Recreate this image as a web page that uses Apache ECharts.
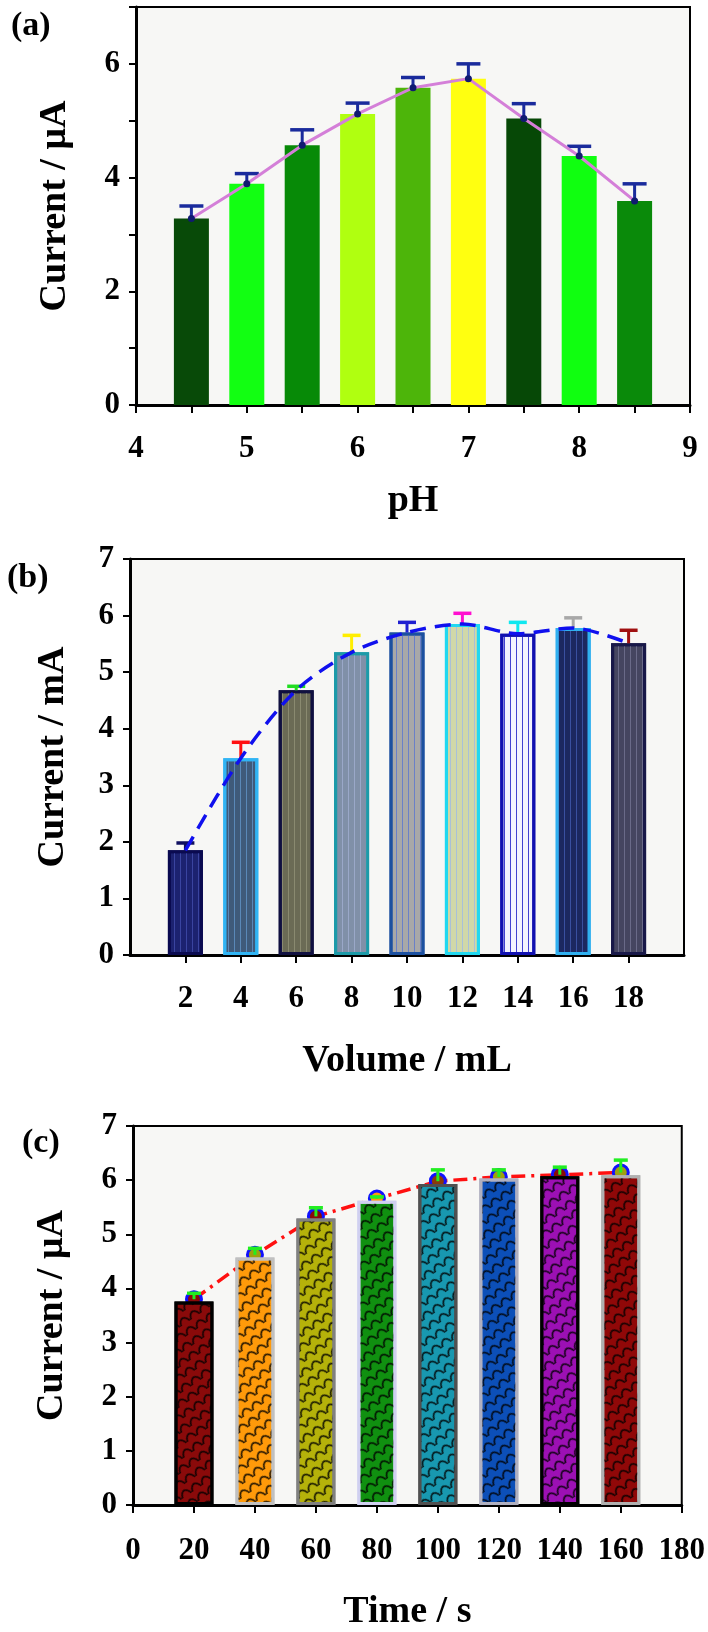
<!DOCTYPE html>
<html>
<head>
<meta charset="utf-8">
<script src="https://cdn.jsdelivr.net/npm/echarts@6/dist/echarts.min.js"></script>
<style>
  html, body { margin: 0; background: #fff; }
  #chart { width: 708px; height: 1632px; }
</style>
</head>
<body>
<div id="chart"></div>
<script>
// (a) effect of pH
var phValues = [4.5, 5, 5.5, 6, 6.5, 7, 7.5, 8, 8.5];
var phCurrent = [3.28, 3.89, 4.57, 5.12, 5.58, 5.74, 5.04, 4.38, 3.59];
var phError = [0.22, 0.18, 0.27, 0.19, 0.18, 0.26, 0.26, 0.17, 0.30];
var phTicks = [4, 5, 6, 7, 8, 9];

// (b) effect of volume
var volumes = [2, 4, 6, 8, 10, 12, 14, 16, 18];
var volCurrent = [1.85, 3.48, 4.68, 5.35, 5.70, 5.85, 5.68, 5.78, 5.51];
var volError = [0.13, 0.28, 0.07, 0.30, 0.18, 0.19, 0.20, 0.18, 0.23];

// (c) effect of time
var times = [20, 40, 60, 80, 100, 120, 140, 160];
var timeCurrent = [3.76, 4.57, 5.29, 5.62, 5.93, 6.03, 6.07, 6.09];
var timeMarker = [3.80, 4.62, 5.33, 5.66, 5.98, 6.06, 6.10, 6.14];
var timeError = [0.11, 0.12, 0.16, 0.03, 0.21, 0.13, 0.14, 0.23];

// colours
var phColors = ['#084a08', '#12ff12', '#078a07', '#b0ff10', '#4db50a', '#ffff10', '#064806', '#10ff10', '#0a8a0a'];
var volFill = ['#1c2270', '#3f5a7a', '#6b6b55', '#8090a8', '#a8a8a8', '#d0d8a8', '#f2f2ff', '#1c2860', '#454560'];
var volBorder = ['#0a0a50', '#30b4f4', '#101040', '#1c9aa8', '#1c50a0', '#20d8f0', '#1010b0', '#30b0f0', '#181848'];
var volStripe = ['#3a44a0', '#5a88b8', '#8a8a70', '#9aa8c8', '#6a80c8', '#a8c0d8', '#4040d0', '#3a50a0', '#6a6a88'];
var volErrColors = ['#101060', '#ff1010', '#20dd20', '#ffee00', '#2020d0', '#ff10d0', '#10e8f0', '#a8a8a8', '#a01010'];
var timeFill = ['#8a0a0a', '#ff9a0a', '#b5b20a', '#109010', '#1898b0', '#0c4fb8', '#9c10b4', '#900808'];
var timeBorder = ['#000000', '#c0c0c0', '#808080', '#d0d0f0', '#505050', '#b0b0c0', '#000000', '#b0b0b0'];
var timeMarkFill = ['#8a0a0a', '#a0a010', '#8a0a0a', '#ff9a0a', '#8a3a0a', '#a0a010', '#8a0a0a', '#a0a010'];

var FONT = 'Liberation Serif';

function assign(a, b) { for (var k in b) a[k] = b[k]; return a; }
function txt(size) {
  return {fontFamily: FONT, fontWeight: 'bold', color: '#000', fontSize: size};
}

var grids = [
  {left: 136, top: 7, width: 554, height: 398},
  {left: 130, top: 559, width: 554, height: 396},
  {left: 133, top: 1126, width: 552, height: 397}
];
grids.forEach(function (g) {
  g.show = true;
  g.backgroundColor = '#f7f7f5';
  g.borderColor = '#000';
  g.borderWidth = 2;
});

function yAxis(gi, formatter) {
  return {
    type: 'value', gridIndex: gi, min: 0, max: 7, interval: 1,
    name: gi === 1 ? 'Current / mA' : 'Current / μA',
    nameLocation: 'middle', nameGap: gi === 1 ? 58 : 62,
    nameTextStyle: txt(38),
    axisLine: {show: true, lineStyle: {color: '#000', width: 3}},
    axisTick: {show: true, length: 7, lineStyle: {color: '#000', width: 2}},
    axisLabel: assign({margin: 16, formatter: formatter}, txt(31)),
    splitLine: {show: false}
  };
}

function xAxisBase(gi, name, gap) {
  return {
    type: 'value', gridIndex: gi, name: name,
    nameLocation: 'middle', nameGap: gap,
    nameTextStyle: txt(38),
    axisLine: {show: true, onZero: false, lineStyle: {color: '#000', width: 3}},
    axisTick: {show: true, length: 8, lineStyle: {color: '#000', width: 2}},
    splitLine: {show: false}
  };
}

var xa = xAxisBase(0, 'pH', 77);
xa.min = 4; xa.max = 9; xa.interval = 0.5;
xa.axisLabel = assign({margin: 28, customValues: phTicks}, txt(31));

var xb = xAxisBase(1, 'Volume / mL', 87);
xb.min = 0; xb.max = 20; xb.interval = 2;
xb.axisTick.customValues = volumes;
xb.axisLabel = assign({margin: 28, customValues: volumes}, txt(31));

var xc = xAxisBase(2, 'Time / s', 88);
xc.min = 0; xc.max = 180; xc.interval = 20;
xc.axisLabel = assign({margin: 30}, txt(31));

// vertical error bar with a cap, drawn from base up to base + err
function errorSeries(gi, xs, base, err, colors, capW, z) {
  return {
    type: 'custom', xAxisIndex: gi, yAxisIndex: gi, z: z,
    encode: {x: 0, y: [1, 2]},
    data: xs.map(function (x, i) { return [x, base[i], base[i] + err[i]]; }),
    renderItem: function (params, api) {
      var p0 = api.coord([api.value(0), api.value(1)]);
      var p1 = api.coord([api.value(0), api.value(2)]);
      var c = colors[params.dataIndex];
      return {type: 'group', children: [
        {type: 'line', shape: {x1: p0[0], y1: p0[1], x2: p1[0], y2: p1[1]}, style: {stroke: c, lineWidth: 3}},
        {type: 'line', shape: {x1: p1[0] - capW / 2, y1: p1[1], x2: p1[0] + capW / 2, y2: p1[1]}, style: {stroke: c, lineWidth: 3.5}}
      ]};
    }
  };
}

var phErrColors = phValues.map(function () { return '#1a2b9c'; });
var timeErrColors = times.map(function () { return '#22ee22'; });

var series = [
  // (a)
  {
    type: 'bar', xAxisIndex: 0, yAxisIndex: 0, barWidth: 35, z: 2,
    data: phValues.map(function (x, i) {
      return {value: [x, phCurrent[i]], itemStyle: {color: phColors[i]}};
    })
  },
  errorSeries(0, phValues, phCurrent, phError, phErrColors, 24, 3),
  {
    type: 'line', xAxisIndex: 0, yAxisIndex: 0, z: 4,
    data: phValues.map(function (x, i) { return [x, phCurrent[i]]; }),
    lineStyle: {color: '#d47fd8', width: 3},
    symbol: 'circle', symbolSize: 7,
    itemStyle: {color: '#101a70', borderWidth: 0}
  },
  // (b)
  {
    type: 'bar', xAxisIndex: 1, yAxisIndex: 1, barWidth: 35, z: 2,
    data: volumes.map(function (x, i) {
      return {value: [x, volCurrent[i]], itemStyle: {
        color: volFill[i], borderColor: volBorder[i], borderWidth: 3,
        decal: {symbol: 'rect', symbolSize: 1, dashArrayX: [1, 5], dashArrayY: [4, 0], color: volStripe[i]}
      }};
    })
  },
  errorSeries(1, volumes, volCurrent, volError, volErrColors, 18, 3),
  {
    type: 'line', xAxisIndex: 1, yAxisIndex: 1, z: 4, smooth: 0.3,
    data: volumes.map(function (x, i) { return [x, volCurrent[i]]; }),
    lineStyle: {color: '#1010ee', width: 3.5, type: [16, 9]},
    showSymbol: false
  },
  // (c)
  {
    type: 'line', xAxisIndex: 2, yAxisIndex: 2, z: 1,
    data: times.map(function (x, i) {
      return {value: [x, timeMarker[i]], itemStyle: {color: timeMarkFill[i]}};
    }),
    lineStyle: {color: '#ff1010', width: 3.5, type: [14, 6, 3, 6]},
    symbol: 'circle', symbolSize: 15,
    itemStyle: {borderColor: '#1010ff', borderWidth: 3}
  },
  {
    type: 'bar', xAxisIndex: 2, yAxisIndex: 2, barWidth: 39, z: 2,
    data: times.map(function (x, i) {
      return {value: [x, timeCurrent[i]], itemStyle: {
        color: timeFill[i], borderColor: timeBorder[i], borderWidth: 3,
        decal: {
          symbol: 'path://M0,10 C2,1 10,1 12,10 L10.3,10 C8.5,3.5 3.5,3.5 1.7,10 Z',
          symbolSize: 1, dashArrayX: [12, 0], dashArrayY: [11, 0],
          rotation: -0.6, color: 'rgba(0,0,0,0.85)'
        }
      }};
    })
  },
  errorSeries(2, times, timeMarker, timeError, timeErrColors, 14, 3)
];

var labels = [
  {text: '(a)', left: 6, top: 4},
  {text: '(b)', left: 2, top: 556},
  {text: '(c)', left: 17, top: 1121}
].map(function (t) {
  t.textStyle = txt(34);
  return t;
});

var option = {
  animation: false,
  backgroundColor: '#fff',
  title: labels,
  grid: grids,
  xAxis: [xa, xb, xc],
  yAxis: [
    yAxis(0, function (v) { return v % 2 === 0 ? String(v) : ''; }),
    yAxis(1),
    yAxis(2)
  ],
  series: series
};

var chart = echarts.init(document.getElementById('chart'));
chart.setOption(option);
</script>
</body>
</html>
